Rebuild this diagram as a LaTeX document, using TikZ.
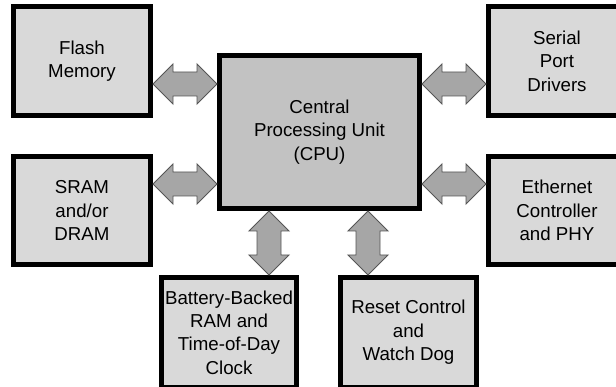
\documentclass[tikz,border=0pt]{standalone}
\usepackage{fontspec}
\setmainfont{Liberation Sans}
\usetikzlibrary{calc}
\definecolor{sidegray}{RGB}{217,217,217}
\definecolor{cpugray}{RGB}{194,194,194}
\definecolor{busfill}{RGB}{166,166,166}
\definecolor{busline}{RGB}{85,85,85}

\begin{document}
\begin{tikzpicture}[
    box/.style={rectangle, draw, line width=0.125cm, fill=sidegray, align=center,
                minimum width=3.425cm, minimum height=2.725cm, inner sep=0pt,
                font=\fontsize{13.3}{16.6}\selectfont},
    bus/.style={draw=busline, fill=busfill, line width=0.6pt,
                to path={let \p1=(\tikztostart), \p2=(\tikztotarget) in
                  -- ($(\p1)!0.5cm!(\p2)!0.5cm!90:(\p2)$)
                  -- ($(\p1)!0.5cm!(\p2)!0.3cm!90:(\p2)$)
                  -- ($(\p2)!0.5cm!(\p1)!0.3cm!-90:(\p1)$)
                  -- ($(\p2)!0.5cm!(\p1)!0.5cm!-90:(\p1)$)
                  -- (\p2)
                  -- ($(\p2)!0.5cm!(\p1)!0.5cm!90:(\p1)$)
                  -- ($(\p2)!0.5cm!(\p1)!0.3cm!90:(\p1)$)
                  -- ($(\p1)!0.5cm!(\p2)!0.3cm!-90:(\p2)$)
                  -- ($(\p1)!0.5cm!(\p2)!0.5cm!-90:(\p2)$)
                  -- cycle}}]

% the right and bottom boxes run off the page
\clip (0,0) rectangle (15.4,9.675);

% Left column
\node (flash) [box]                    at (2.05, 8.15) {Flash\\Memory};
\node (sram)  [box, minimum height=2.7cm] at (2.05, 4.41) {SRAM\\and/or\\DRAM};

% Processor in the middle
\node (cpu) [box, fill=cpugray, minimum width=5cm, minimum height=3.825cm]
      at (7.9875, 6.375) {Central\\Processing Unit\\(CPU)};

% Right column
\node (serial) [box]                      at (13.925, 8.15) {Serial\\Port\\Drivers};
\node (ether)  [box, minimum height=2.7cm] at (13.925, 4.41) {Ethernet\\Controller\\and PHY};

% Bottom row
\node (batt)  [box, minimum width=3.375cm, minimum height=2.75cm] at (5.725, 1.3625)
      {Battery-Backed\\RAM and\\Time-of-Day\\Clock};
\node (reset) [box, minimum width=3.4cm, minimum height=2.75cm]   at (10.2125, 1.3625)
      {Reset Control\\and\\Watch Dog};

% Bus arrows to and from the CPU
\draw [bus] ([yshift=1.2cm]cpu.west -| flash.east)  to ([yshift=1.2cm]cpu.west);
\draw [bus] ([yshift=-1.3cm]cpu.west -| sram.east)  to ([yshift=-1.3cm]cpu.west);
\draw [bus] ([yshift=1.2cm]cpu.east)  to ([yshift=1.2cm]cpu.east -| serial.west);
\draw [bus] ([yshift=-1.3cm]cpu.east) to ([yshift=-1.3cm]cpu.east -| ether.west);
\draw [bus] ([xshift=-1.2625cm]cpu.south) to ([xshift=-1.2625cm]cpu.south |- batt.north);
\draw [bus] ([xshift=1.2125cm]cpu.south)  to ([xshift=1.2125cm]cpu.south |- reset.north);

\end{tikzpicture}
\end{document}
